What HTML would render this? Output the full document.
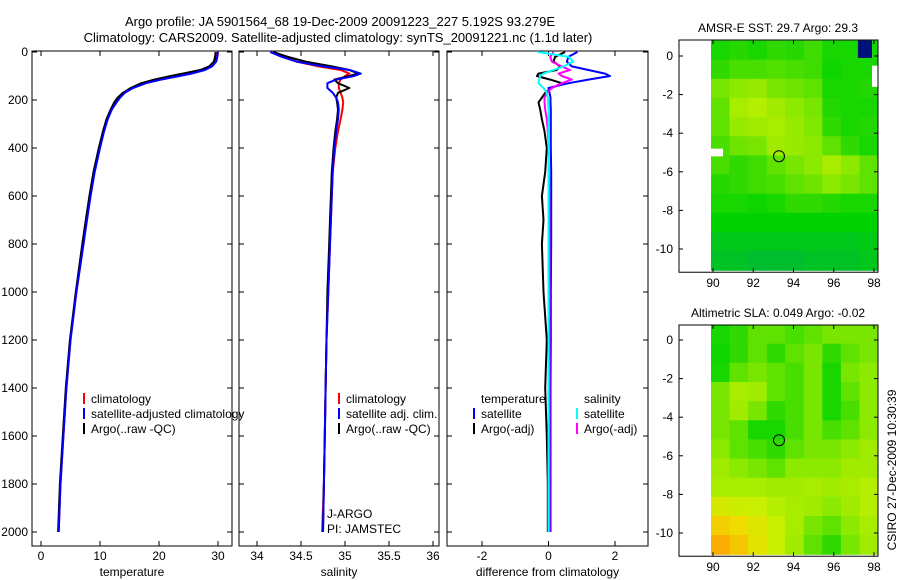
<!DOCTYPE html>
<html><head><meta charset="utf-8"><style>
html,body{margin:0;padding:0;background:#fff;}
svg{display:block;font-family:"Liberation Sans",sans-serif;}
</style></head><body>
<svg id="fig" width="900" height="580" viewBox="0 0 900 580" xmlns="http://www.w3.org/2000/svg">
<text x="340" y="26" font-size="13" text-anchor="middle">Argo profile: JA 5901564_68 19-Dec-2009 20091223_227 5.192S 93.279E</text>
<text x="338" y="42" font-size="13" text-anchor="middle">Climatology: CARS2009. Satellite-adjusted climatology: synTS_20091221.nc (1.1d later)</text>
<text x="0" y="0" font-size="12" text-anchor="middle" transform="translate(896,470) rotate(-90)">CSIRO 27-Dec-2009 10:30:39</text>
<g id="plots"></g>
</svg>
<script>
const depths=[0,20,40,60,75,90,100,115,130,150,170,190,210,240,280,330,400,500,600,700,800,1000,1200,1400,1600,1800,2000];
const tempClim=[29.8,29.7,29.4,28.6,27.3,24.5,22.5,19.6,17.3,15.4,14.0,13.2,12.6,11.9,11.2,10.6,9.9,9.0,8.3,7.7,7.2,6.0,5.0,4.3,3.8,3.3,3.0];
const tempSat=[30.0,29.9,29.7,29.0,27.8,25.5,23.5,20.3,17.8,15.6,14.2,13.4,12.8,12.0,11.3,10.7,10.0,9.1,8.4,7.8,7.2,6.0,5.0,4.3,3.8,3.3,3.0];
const tempArgo=[29.6,29.5,29.3,28.5,27.0,24.0,22.0,19.2,17.0,15.2,13.9,13.0,12.4,11.8,11.1,10.5,9.8,8.9,8.2,7.6,7.0,5.9,4.9,4.2,3.7,3.2,2.9];
const salClim=[34.20,34.30,34.45,34.70,34.95,35.05,35.00,34.95,34.93,34.93,34.95,34.97,34.98,34.97,34.95,34.92,34.89,34.86,34.85,34.84,34.83,34.81,34.79,34.78,34.77,34.76,34.74];
const salSat=[34.15,34.28,34.45,34.75,35.05,35.18,35.10,34.90,34.80,34.80,34.86,34.90,34.92,34.93,34.92,34.90,34.88,34.86,34.85,34.84,34.83,34.81,34.79,34.78,34.77,34.76,34.75];
const salArgo=[34.18,34.35,34.55,34.85,35.05,35.15,35.05,34.88,34.92,35.05,34.92,34.90,34.91,34.92,34.91,34.89,34.87,34.85,34.84,34.83,34.82,34.80,34.79,34.78,34.77,34.76,34.75];
const diffTempSat=[0.87,0.6,0.55,0.7,1.2,1.7,1.85,1.2,0.6,0,0.03,0.06,0.06,0.07,0.07,0.07,0.07,0.08,0.08,0.08,0.08,0.07,0.07,0.06,0.06,0.06,0.06];
const diffTempArgo=[0.5,0.2,0.15,0.35,0.25,-0.3,-0.35,0.05,0.4,0.1,-0.1,-0.2,-0.3,-0.25,-0.2,-0.12,-0.05,-0.1,-0.2,-0.15,-0.2,-0.15,-0.05,-0.1,-0.05,-0.02,-0.02];
const diffSalArgo=[0.15,0.05,0.1,0.4,0.65,0.3,0.4,0.7,0.4,0.1,-0.05,-0.12,-0.12,-0.1,-0.05,-0.02,0,0.01,0.02,0.03,0.03,0.03,0.03,0.03,0.03,0.03,0.03];
const diffSalSat=[-0.33,0.6,0.75,0.45,0.15,-0.15,-0.25,-0.28,-0.3,-0.15,-0.05,-0.02,-0.01,0,0,0,0,0,0,0,0,0,0,0,0,0,0];
const depthTicks=[0,200,400,600,800,1000,1200,1400,1600,1800,2000];
const tempTicks=[0,10,20,30];
const salTicks=[34,34.5,35,35.5,36];
const diffTicks=[-2,0,2];
const mapLonTicks=[90,92,94,96,98];
const mapLatTicks=[0,-2,-4,-6,-8,-10];
const sstGrid=[
[.30,.33,.30,.35,.33,.38,.30,.30,.30],
[.35,.40,.40,.42,.40,.38,.28,.30,.30],
[.50,.55,.58,.50,.48,.45,.30,.30,.32],
[.45,.62,.65,.60,.55,.50,.32,.30,.30],
[.45,.58,.60,.62,.58,.52,.35,.30,.32],
[.40,.48,.50,.60,.58,.55,.45,.35,.30],
[.40,.35,.38,.45,.50,.55,.62,.55,.45],
[.33,.35,.38,.40,.45,.48,.55,.50,.45],
[.30,.30,.28,.30,.35,.35,.32,.30,.30],
[.25,.25,.25,.25,.25,.25,.25,.25,.25],
[.18,.18,.18,.18,.18,.18,.18,.18,.20],
[.15,.15,.12,.12,.12,.15,.15,.15,.18]];
const slaGrid=[
[.30,.35,.45,.45,.40,.45,.50,.50,.50],
[.28,.35,.45,.35,.45,.50,.35,.45,.50],
[.30,.45,.50,.45,.40,.50,.30,.50,.55],
[.50,.62,.60,.45,.40,.50,.30,.45,.55],
[.50,.60,.50,.35,.40,.50,.30,.40,.55],
[.50,.45,.30,.30,.40,.50,.40,.45,.55],
[.55,.45,.40,.35,.45,.50,.50,.55,.60],
[.60,.55,.50,.45,.55,.55,.55,.60,.60],
[.62,.62,.62,.60,.60,.62,.60,.62,.65],
[.75,.72,.70,.65,.62,.60,.55,.60,.65],
[.88,.85,.78,.70,.62,.50,.45,.55,.62],
[.95,.90,.80,.70,.60,.45,.35,.50,.60]];
const argoLon=93.279, argoLat=-5.192;

const NS='http://www.w3.org/2000/svg';
const root=document.getElementById('plots');
function mk(tag,attrs,parent){const e=document.createElementNS(NS,tag);for(const k in attrs)e.setAttribute(k,attrs[k]);(parent||root).appendChild(e);return e;}
const yD=d=>52+d*0.24;
function lin(d0,d1,r0,r1){return v=>r0+(v-d0)*(r1-r0)/(d1-d0);}

function panel(name,x0,x1,xs,ticks,label,showY){
  const g=mk('g',{});
  
  
  const fr=mk('rect',{x:x0,y:51,width:x1-x0,height:495,fill:'none',stroke:'#000','stroke-width':1},g);
  
  
  ticks.forEach(t=>{const x=xs(t);
    mk('line',{x1:x,x2:x,y1:51,y2:56,stroke:'#000'},g);mk('line',{x1:x,x2:x,y1:541,y2:546,stroke:'#000'},g);
    const tx=mk('text',{x:x,y:560,'font-size':12,'text-anchor':'middle'},g);tx.textContent=String(t);
    
    });
  depthTicks.forEach(d=>{const y=yD(d);
    mk('line',{x1:x0,x2:x0+5,y1:y,y2:y,stroke:'#000'},g);mk('line',{x1:x1-5,x2:x1,y1:y,y2:y,stroke:'#000'},g);
    if(showY){const tx=mk('text',{x:x0-4,y:y+4,'font-size':12,'text-anchor':'end'},g);tx.textContent=String(d);
      
      }});
  const xl=mk('text',{x:(x0+x1)/2,y:576,'font-size':12,'text-anchor':'middle'},g);xl.textContent=label;
  
  
  return g;
}
function series(g,vals,xs,color,name){
  const pts=vals.map((v,i)=>xs(v).toFixed(1)+','+yD(depths[i]).toFixed(1)).join(' ');
  const p=mk('polyline',{points:pts,fill:'none',stroke:color,'stroke-width':2,'stroke-linejoin':'round'},g);
  
  
}
function legend(g,x,y,color,text,name){
  if(color){mk('line',{x1:x,x2:x,y1:y-10,y2:y+1,stroke:color,'stroke-width':2},g);}
  const t=mk('text',{x:x+7,y:y,'font-size':12},g);t.textContent=text;
  
  
}
const xT=lin(0,30,41,218);
const p1=panel('temperature-panel',32,232,xT,tempTicks,'temperature',true);
series(p1,tempClim,xT,'#f00','temp-climatology-line');
series(p1,tempArgo,xT,'#000','temp-argo-line');
series(p1,tempSat,xT,'#00f','temp-satellite-line');
legend(p1,84,403,'#f00','climatology','legend-climatology');
legend(p1,84,418,'#00f','satellite-adjusted climatology','legend-satellite-adjusted');
legend(p1,84,433,'#000','Argo(..raw -QC)','legend-argo');
const xS=lin(34,36,257,433);
const p2=panel('salinity-panel',239,439,xS,salTicks,'salinity',false);
series(p2,salClim,xS,'#f00','sal-climatology-line');
series(p2,salArgo,xS,'#000','sal-argo-line');
series(p2,salSat,xS,'#00f','sal-satellite-line');
legend(p2,339,403,'#f00','climatology','legend-sal-climatology');
legend(p2,339,418,'#00f','satellite adj. clim.','legend-sal-satellite');
legend(p2,339,433,'#000','Argo(..raw -QC)','legend-sal-argo');
legend(p2,320,518,null,'J-ARGO','j-argo-label');
legend(p2,320,533,null,'PI: JAMSTEC','pi-label');
const xDf=lin(-2,2,482,615);
const p3=panel('difference-panel',447,648,xDf,diffTicks,'difference from climatology',false);
series(p3,diffTempArgo,xDf,'#000','diff-temp-argo-line');
series(p3,diffTempSat,xDf,'#00f','diff-temp-satellite-line');
series(p3,diffSalArgo,xDf,'#f0f','diff-sal-argo-line');
series(p3,diffSalSat,xDf,'#0ff','diff-sal-satellite-line');
legend(p3,474,403,null,'temperature','legend-temperature-heading');
legend(p3,474,418,'#00f','satellite','legend-diff-temp-satellite');
legend(p3,474,433,'#000','Argo(-adj)','legend-diff-temp-argo');
legend(p3,577,403,null,'salinity','legend-salinity-heading');
legend(p3,577,418,'#0ff','satellite','legend-diff-sal-satellite');
legend(p3,577,433,'#f0f','Argo(-adj)','legend-diff-sal-argo');

const stops=[[0,[0,170,90]],[0.25,[0,210,0]],[0.5,[120,230,0]],[0.7,[200,240,0]],[0.85,[240,220,0]],[1,[255,150,0]]];
function cmap(v){for(let i=1;i<stops.length;i++){if(v<=stops[i][0]){const a=stops[i-1],b=stops[i];const f=(v-a[0])/(b[0]-a[0]);
  return 'rgb('+a[1].map((c,k)=>Math.round(c+(b[1][k]-c)*f)).join(',')+')';}}return 'rgb(255,150,0)';}
function map(name,top,lat0y,grid,title,extra){
  const g=mk('g',{});
  
  
  const xL=lin(90,98,713,874), yL=lin(0,-10,lat0y,lat0y+193);
  const lonMin=89.9,lonMax=98.2,latMax=0.8,latMin=-11.1;
  const nr=grid.length,nc=grid[0].length;
  const dlon=(lonMax-lonMin)/nc,dlat=(latMax-latMin)/nr;
  grid.forEach((row,r)=>row.forEach((v,c)=>{
    const xa=xL(lonMin+c*dlon),xb=xL(lonMin+(c+1)*dlon),ya=yL(latMax-r*dlat),yb=yL(latMax-(r+1)*dlat);
    const w=Math.min(xb-xa+0.6,878-xa);
    const cell=mk('rect',{x:xa.toFixed(1),y:ya.toFixed(1),width:w.toFixed(1),height:(yb-ya+0.6).toFixed(1),fill:cmap(v)},g);
    
    
  }));
  if(extra)extra(g,xL,yL);
  const ci=mk('circle',{cx:xL(argoLon),cy:yL(argoLat),r:5.5,fill:'none',stroke:'#000','stroke-width':1},g);
  
  
  const bottom=yL(latMin)+2;
  const fr=mk('rect',{x:679,y:top,width:199,height:bottom-top,fill:'none',stroke:'#000'},g);
  
  
  mapLonTicks.forEach(t=>{const x=xL(t);mk('line',{x1:x,x2:x,y1:bottom-4,y2:bottom,stroke:'#000'},g);mk('line',{x1:x,x2:x,y1:top,y2:top+4,stroke:'#000'},g);
    const tx=mk('text',{x:x,y:bottom+15,'font-size':12,'text-anchor':'middle'},g);tx.textContent=String(t);
    
    });
  mapLatTicks.forEach(t=>{const y=yL(t);mk('line',{x1:679,x2:683,y1:y,y2:y,stroke:'#000'},g);mk('line',{x1:874,x2:878,y1:y,y2:y,stroke:'#000'},g);
    const tx=mk('text',{x:673,y:y+4,'font-size':12,'text-anchor':'end'},g);tx.textContent=String(t);
    
    });
  const tt=mk('text',{x:778,y:top-8,'font-size':12,'text-anchor':'middle'},g);tt.textContent=title;
  
  
}
map('sst-map',40,56,sstGrid,'AMSR-E SST: 29.7 Argo: 29.3',(g,xL,yL)=>{
  const a=mk('rect',{x:xL(97.2),y:yL(0.8),width:xL(97.9)-xL(97.2),height:yL(-0.1)-yL(0.8),fill:'#00107a'},g);
  
  
  const w=mk('rect',{x:xL(97.9),y:yL(-0.5),width:878-xL(97.9),height:yL(-1.6)-yL(-0.5),fill:'#fff'},g);
  
  
  const w2=mk('rect',{x:xL(89.9),y:yL(-4.8),width:xL(90.5)-xL(89.9),height:yL(-5.2)-yL(-4.8),fill:'#fff'},g);
  
  
});
map('sla-map',325,340,slaGrid,'Altimetric SLA: 0.049 Argo: -0.02',null);
</script>
</body></html>
